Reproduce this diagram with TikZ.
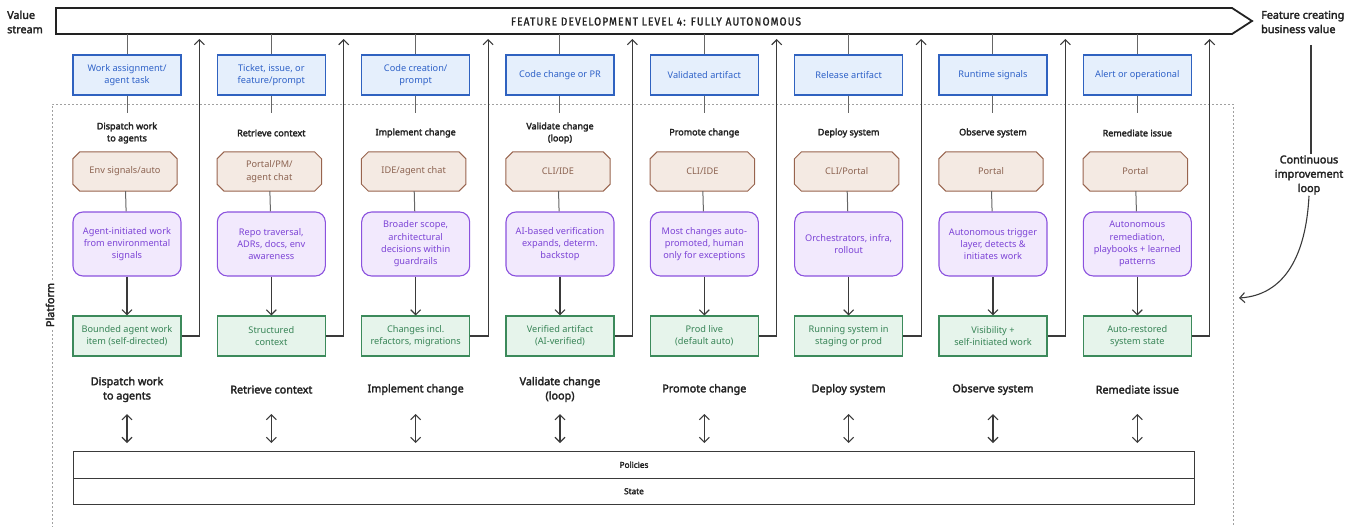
\documentclass[tikz,border=0pt]{standalone}
\usepackage{fontspec}
\setmainfont{Noto Sans}
\newfontfamily\medfont{Noto Sans}[FakeBold=2.6]
\newfontfamily\condfont{Fira Sans}[FakeStretch=0.88, LetterSpace=10, FakeBold=1.5]
\usetikzlibrary{arrows.meta,backgrounds}

\definecolor{bluefill}{HTML}{E5EFFC}
\definecolor{blueline}{HTML}{2F62C0}
\definecolor{bluetext}{HTML}{2F62C8}
\definecolor{octfill}{HTML}{F4EAE3}
\definecolor{octline}{HTML}{98644E}
\definecolor{octtext}{HTML}{8C6351}
\definecolor{purpfill}{HTML}{F2E9FD}
\definecolor{purpline}{HTML}{8B52DE}
\definecolor{purptext}{HTML}{7D44D6}
\definecolor{greenfill}{HTML}{E6F4EB}
\definecolor{greenline}{HTML}{3C8A5B}
\definecolor{greentext}{HTML}{378456}
\definecolor{ink}{HTML}{222222}
\definecolor{wire}{HTML}{3A3A3A}
\definecolor{stem}{HTML}{666666}
\definecolor{frame}{HTML}{A0A0A0}

\tikzset{
  boxtext/.style={font=\fontsize{9.2}{12.3}\selectfont, align=center, inner sep=2pt},
  bluebox/.style={boxtext, draw=blueline, fill=bluefill, text=bluetext, line width=1.1pt,
    minimum width=108, minimum height=40},
  octbox/.style={boxtext, text=octtext, minimum width=104, minimum height=39},
  octshape/.style={draw=octline, fill=octfill, line width=1pt, line join=miter},
  purpbox/.style={boxtext, rounded corners=10pt, draw=purpline, fill=purpfill, text=purptext,
    line width=1.1pt, minimum width=108, minimum height=64},
  greenbox/.style={boxtext, draw=greenline, fill=greenfill, text=greentext, line width=1.1pt,
    minimum width=108, minimum height=40},
  hdr/.style={font=\medfont\fontsize{9}{12}\selectfont, text=ink, align=center, inner sep=1pt},
  bighdr/.style={font=\medfont\fontsize{10.8}{14.3}\selectfont, text=ink, align=center, inner sep=1pt},
  sidetext/.style={font=\medfont\fontsize{10.8}{14.3}\selectfont, text=ink, inner sep=1pt},
  stemline/.style={draw=stem, line width=1pt},
  flow/.style={draw=wire, line width=1.1pt, -{Straight Barb[length=5pt,width=10pt,line width=1.1pt]}},
  both/.style={draw=wire, line width=1.1pt,
    {Straight Barb[length=5pt,width=10pt,line width=1.1pt]}-{Straight Barb[length=5pt,width=10pt,line width=1.1pt]}},
  layer/.style={draw=wire, line width=1pt, minimum width=1121, minimum height=26.5, anchor=north west,
    font=\medfont\fontsize{8.2}{10}\selectfont, text=ink, inner sep=0pt},
}

% one stage column: index, input, header, interface, capability, output, lower header
\newcommand{\stagecol}[7]{%
  \pgfmathsetmacro{\cx}{127+144.33*(#1-1)}
  \node[bluebox]  (v#1) at (\cx,75) {#2};
  \node[hdr]      (h#1) at (\cx,133) {#3};
  \node[octbox]   (t#1) at (\cx-2,171.5) {#4};
  \begin{scope}[on background layer]
    \draw[octshape] ([xshift=7pt]t#1.north west) -- ([xshift=-7pt]t#1.north east)
      -- ([yshift=-7pt]t#1.north east) -- ([yshift=7pt]t#1.south east)
      -- ([xshift=-7pt]t#1.south east) -- ([xshift=7pt]t#1.south west)
      -- ([yshift=7pt]t#1.south west) -- ([yshift=-7pt]t#1.north west) -- cycle;
  \end{scope}
  \node[purpbox]  (p#1) at (\cx,244) {#5};
  \node[greenbox] (g#1) at (\cx,336) {#6};
  \node[bighdr]   (s#1) at (\cx,389.5) {#7};
  \coordinate (top#1) at (\cx,34);
  \coordinate (stemend#1) at (\cx,113);
  \coordinate (ret#1) at (\cx+72.4,39);
  \coordinate (up#1) at (\cx,414);
  \coordinate (dn#1) at (\cx,443);
  \draw[stemline] (top#1) -- (v#1);
  \draw[stemline] (v#1) -- (stemend#1);
  \draw[stemline] (t#1) -- (p#1);
  \draw[flow] (p#1) -- (g#1);
  \draw[flow] (g#1.east) -| (ret#1);
  \draw[both] (up#1) -- (dn#1);
}

\begin{document}
\begin{tikzpicture}[x=1pt,y=-1pt]
\useasboundingbox (0,0) rectangle (1359,527);

% platform frame (open at the bottom)
\draw[frame, line width=0.8pt, dash pattern=on 2pt off 2pt]
  (52,540) -- (52,104) -- (1233,104) -- (1233,540);
\node[sidetext, rotate=90, fill=white, inner sep=3pt] (platform) at (50,305) {Platform};

% value stream banner
\draw[ink, line width=1.8pt, line join=miter]
  (56,8) -- (1232,8) -- (1252,21) -- (1232,34) -- (56,34) -- cycle;
\node[minimum width=1176, minimum height=26, anchor=north west, inner sep=0pt] (banner) at (56,8) {};
\node[font=\condfont\fontsize{11.5}{14}\selectfont, text=ink] (bannertitle) at (656,21.5)
  {FEATURE DEVELOPMENT LEVEL 4: FULLY AUTONOMOUS};
\node[sidetext, anchor=west, align=left] (vs) at (6,22) {Value\\stream};
\node[sidetext, anchor=west, align=left] (fcbv) at (1260,22) {Feature creating\\business value};

% stages
\stagecol{1}{Work assignment/\\agent task}{Dispatch work\\to agents}{Env signals/auto}
  {Agent-initiated work\\from environmental\\signals}{Bounded agent work\\item (self-directed)}
  {Dispatch work\\to agents}
\stagecol{2}{Ticket, issue, or\\feature/prompt}{Retrieve context}{Portal/PM/\\agent chat}
  {Repo traversal,\\ADRs, docs, env\\awareness}{Structured\\context}{Retrieve context}
\stagecol{3}{Code creation/\\prompt}{Implement change}{IDE/agent chat}
  {Broader scope,\\architectural\\decisions within\\guardrails}{Changes incl.\\refactors, migrations}
  {Implement change}
\stagecol{4}{Code change or PR}{Validate change\\(loop)}{CLI/IDE}
  {AI-based verification\\expands, determ.\\backstop}{Verified artifact\\(AI-verified)}
  {Validate change\\(loop)}
\stagecol{5}{Validated artifact}{Promote change}{CLI/IDE}
  {Most changes auto-\\promoted, human\\only for exceptions}{Prod live\\(default auto)}
  {Promote change}
\stagecol{6}{Release artifact}{Deploy system}{CLI/Portal}
  {Orchestrators, infra,\\rollout}{Running system in\\staging or prod}{Deploy system}
\stagecol{7}{Runtime signals}{Observe system}{Portal}
  {Autonomous trigger\\layer, detects \&\\initiates work}{Visibility +\\self-initiated work}
  {Observe system}
\stagecol{8}{Alert or operational}{Remediate issue}{Portal}
  {Autonomous\\remediation,\\playbooks + learned\\patterns}{Auto-restored\\system state}
  {Remediate issue}

% shared layers
\node[layer] (policies) at (73,451) {Policies};
\node[layer] (state) at (73,477.5) {State};

% continuous improvement loop
\node[sidetext, align=center] (loop) at (1309,175) {Continuous\\improvement\\loop};
\coordinate (loopstart) at (1311,45);
\coordinate (loopend) at (1239,298);
\draw[wire, line width=1.1pt] (loopstart) -- (loopstart |- loop.north);
\draw[flow] (loop.south) .. controls (1306,255) and (1285,295) .. (loopend);
\end{tikzpicture}
\end{document}
